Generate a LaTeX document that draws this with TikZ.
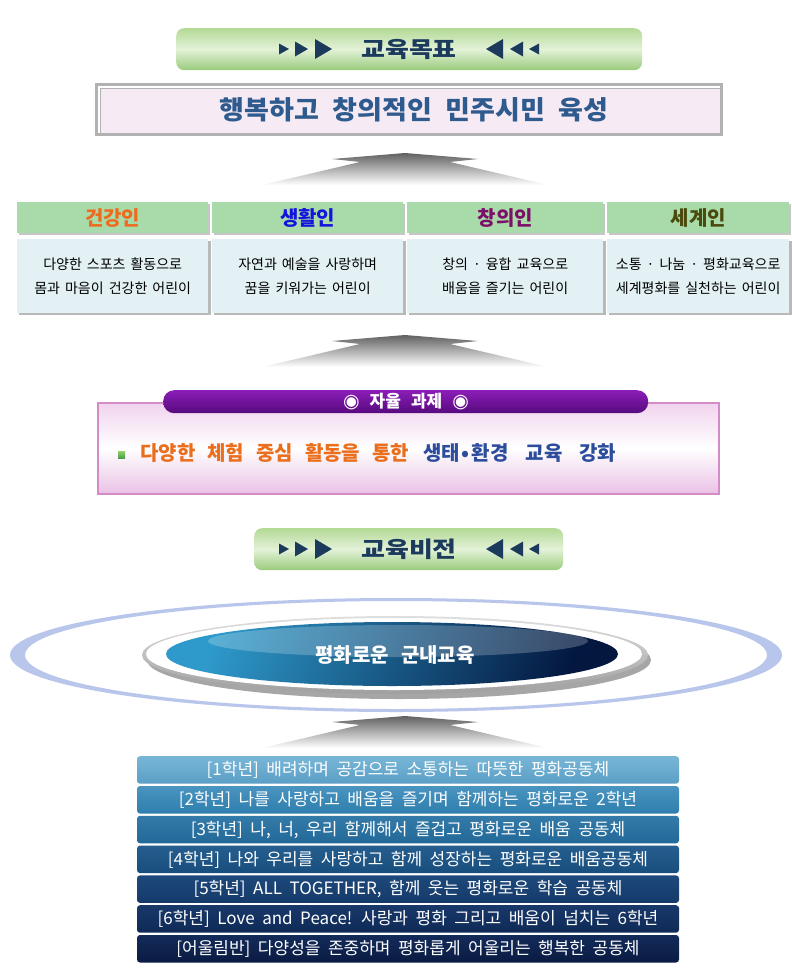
\documentclass[tikz,border=0pt]{standalone}
\usepackage{fontspec}
\setmainfont{Noto Sans CJK KR}
\newfontfamily\symfont{DejaVu Sans}
\usetikzlibrary{shapes.geometric}
\newcommand\myfs[1]{\fontsize{#1}{#1}\selectfont}
\newcommand\bodyfs{\fontsize{14}{24}\selectfont}
\definecolor{bnTop}{HTML}{B3D995}
\definecolor{bnMid}{HTML}{E3F2D8}
\definecolor{bnBot}{HTML}{9ACB7C}
\definecolor{navy}{HTML}{1B3A5C}
\definecolor{goalblue}{HTML}{2E5A8E}
\definecolor{goalfill}{HTML}{F6EAF4}
\definecolor{hdrgreen}{HTML}{A9DAA9}
\definecolor{bodyblue}{HTML}{E3F1F4}
\definecolor{cOrange}{HTML}{F06A1E}
\definecolor{cBlue}{HTML}{1414DC}
\definecolor{cPlum}{HTML}{7D0F68}
\definecolor{cOlive}{HTML}{4A4A0C}
\definecolor{pinkTop}{HTML}{F1D3EE}
\definecolor{pinkBot}{HTML}{E9C1E5}
\definecolor{pinkEdge}{HTML}{D48CC9}
\definecolor{purTop}{HTML}{8C1DB8}
\definecolor{purBot}{HTML}{560A7E}
\definecolor{txtOrange}{HTML}{EA6E1C}
\definecolor{txtBlue}{HTML}{2C4C9C}
\definecolor{ringc}{HTML}{B9C6EC}
\definecolor{glossL}{HTML}{2E9ACB}
\definecolor{glossD}{HTML}{03173F}
\definecolor{bAt}{HTML}{78B6D6}\definecolor{bAb}{HTML}{5B9FC6}
\definecolor{bBt}{HTML}{4A94C0}\definecolor{bBb}{HTML}{2F7EAD}
\definecolor{bCt}{HTML}{347BA9}\definecolor{bCb}{HTML}{226898}
\definecolor{bDt}{HTML}{255E8F}\definecolor{bDb}{HTML}{184E7D}
\definecolor{bEt}{HTML}{1E497C}\definecolor{bEb}{HTML}{143A69}
\definecolor{bFt}{HTML}{18386A}\definecolor{bFb}{HTML}{0F2A56}
\definecolor{bGt}{HTML}{132B5A}\definecolor{bGb}{HTML}{0A1B42}
\newcommand\tris[1]{%
  \fill[navy] (279,{#1-5.5}) -- (289,#1) -- (279,{#1+5.5}) -- cycle;
  \fill[navy] (295,{#1-7.5}) -- (308,#1) -- (295,{#1+7.5}) -- cycle;
  \fill[navy] (315,{#1-10}) -- (332,#1) -- (315,{#1+10}) -- cycle;
  \fill[navy] (539,{#1-5.5}) -- (529,#1) -- (539,{#1+5.5}) -- cycle;
  \fill[navy] (523,{#1-7.5}) -- (510,#1) -- (523,{#1+7.5}) -- cycle;
  \fill[navy] (503,{#1-10}) -- (486,#1) -- (503,{#1+10}) -- cycle;}
\begin{document}
\begin{tikzpicture}[x=1pt,y=-1pt,
  banner/.style={rounded corners=8pt, top color=bnTop, bottom color=bnBot, middle color=bnMid,
    minimum height=42pt, inner sep=0pt, anchor=north west},
  bannertext/.style={text=navy, font=\bfseries\myfs{22}, inner sep=0pt},
  hdrbox/.style={fill=hdrgreen, anchor=north west, minimum height=31pt, inner sep=0pt,
    font=\bfseries\myfs{20}},
  bodybox/.style={fill=bodyblue, anchor=north west, minimum height=74pt, inner sep=0pt,
    align=center, font={\bodyfs\spaceskip=5pt\relax}},
  gradebar/.style={rounded corners=3pt, minimum width=542pt, minimum height=27.5pt, inner sep=0pt,
    anchor=north, text=white, font={\myfs{17}\spaceskip=7.5pt\relax}},
  roof/.pic={\shade[top color=black!62, bottom color=white]
    (0,0) -- (73,6) -- (45,9) -- (143,32) -- (-143,32) -- (-45,9) -- (-73,6) -- cycle;}
]
\fill[white] (0,0) rectangle (792,977);
\useasboundingbox (0,0) rectangle (792,977);

% --- banner 1
\node[banner, minimum width=466pt] (goalbanner) at (176,28) {};
\node[bannertext] (goaltitle) at (409,49) {\scalebox{1.18}[1]{교육목표}};
\tris{49}

% --- goal box
\fill[gray!60] (95,83) rectangle (723,136);
\fill[white] (98,86) rectangle (720,133);
\node[draw=gray!60, line width=1pt, fill=goalfill, anchor=north west, minimum width=620pt,
  minimum height=45pt, inner sep=0pt] (goalbox) at (99.5,87.5) {};
\node[text=goalblue, font={\bfseries\myfs{26}\spaceskip=13pt\relax}, inner sep=0pt]
  (goaltext) at (414,110) {\scalebox{1.04}[1]{행복하고 창의적인 민주시민 육성}};

\pic at (405,153) {roof};

% --- four columns
\foreach \i/\xl/\xr/\hcol/\htxt/\lineA/\lineB in {
  1/17/208/cOrange/건강인/다양한 스포츠 활동으로/몸과 마음이 건강한 어린이,
  2/212/403/cBlue/생활인/자연과 예술을 사랑하며/꿈을 키워가는 어린이,
  3/407/603/cPlum/창의인/창의 · 융합 교육으로/배움을 즐기는 어린이,
  4/607/789/cOlive/세계인/소통 · 나눔 · 평화교육으로/세계평화를 실천하는 어린이}{
  \fill[gray!45] (\xl+2,204) rectangle (\xr+2,235);
  \node[hdrbox, minimum width={\xr-\xl}, text=\hcol] (hdr\i) at (\xl,202) {\htxt};
  \fill[gray!55] (\xl+2,241) rectangle (\xr+2.5,315);
  \node[bodybox, minimum width={\xr-\xl}] (body\i) at (\xl,239) {\lineA\\\lineB};
}

\pic at (405,335) {roof};

% --- task box
\node[draw=pinkEdge, line width=1.5pt, top color=pinkTop, bottom color=pinkBot, middle color=white,
  anchor=north west, minimum width=621pt, minimum height=91pt, inner sep=0pt] (taskbox) at (97,402) {};
\node[rounded corners=11pt, top color=purTop, bottom color=purBot, anchor=north west,
  minimum width=485pt, minimum height=23pt, inner sep=0pt] (taskbar) at (163,390) {};
\node[text=white, font={\bfseries\myfs{17}\spaceskip=10pt\relax}, inner sep=0pt] (tasktitle) at (406,402)
  {{\symfont\myfs{19}◉} 자율 과제 {\symfont\myfs{19}◉}};
\shade[top color=green!40!olive!60, bottom color=green!45!black!70] (118,451) rectangle (125,458);
\node[anchor=west, inner sep=0pt, font={\bfseries\myfs{20}\spaceskip=12pt\relax}] (tasktext) at (140,453)
  {\textcolor{txtOrange}{다양한 체험 중심 활동을 통한}\hspace{14pt}{\spaceskip=17pt\relax\textcolor{txtBlue}{생태\kern2pt•\kern2pt환경 교육 강화}}};

% --- banner 2
\node[banner, minimum width=309pt] (visionbanner) at (254,528) {};
\node[bannertext] (visiontitle) at (409,549) {\scalebox{1.18}[1]{교육비전}};
\tris{549}

% --- vision ellipse
\fill[ringc, even odd rule] (396,655) ellipse [x radius=386, y radius=57]
  (396,655) ellipse [x radius=371, y radius=54];
\fill[black!35] (399,660) ellipse [x radius=252, y radius=39];
\shade[top color=gray!25, bottom color=gray!75] (395,655) ellipse [x radius=253, y radius=39];
\fill[white] (394,654) ellipse [x radius=248, y radius=36];
\shade[top color=glossL, bottom color=glossD, shading angle=70] (392,654) ellipse [x radius=226, y radius=32];
\fill[white, opacity=0.22] (398,641) ellipse [x radius=190, y radius=16];
\node[text=white, font={\bfseries\myfs{20}\spaceskip=12pt\relax}, inner sep=0pt] (visiontext) at (395,655)
  {평화로운 군내교육};

\pic at (405,716) {roof};

% --- grade bars
\foreach \i/\topc/\botc/\btxt in {
  1/bAt/bAb/{[1학년] 배려하며 공감으로 소통하는 따뜻한 평화공동체},
  2/bBt/bBb/{[2학년] 나를 사랑하고 배움을 즐기며 함께하는 평화로운 2학년},
  3/bCt/bCb/{[3학년] 나, 너, 우리 함께해서 즐겁고 평화로운 배움 공동체},
  4/bDt/bDb/{[4학년] 나와 우리를 사랑하고 함께 성장하는 평화로운 배움공동체},
  5/bEt/bEb/{[5학년] ALL TOGETHER, 함께 웃는 평화로운 학습 공동체},
  6/bFt/bFb/{[6학년] Love and Peace! 사랑과 평화 그리고 배움이 넘치는 6학년},
  7/bGt/bGb/{[어울림반] 다양성을 존중하며 평화롭게 어울리는 행복한 공동체}}{
  \node[gradebar, top color=\topc, bottom color=\botc] (grade\i) at (408,{756+29.8*(\i-1)}) {\btxt};
}
\end{tikzpicture}
\end{document}
